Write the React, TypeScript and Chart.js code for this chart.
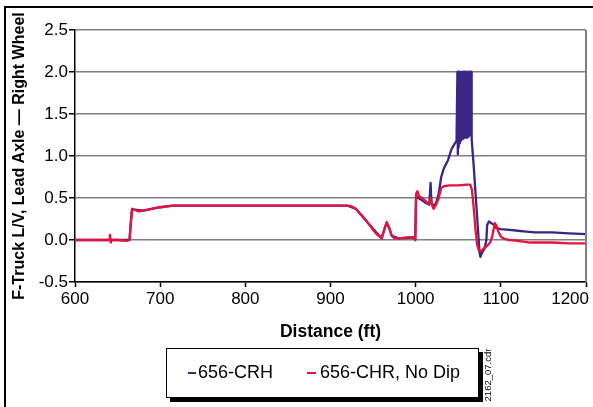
import React, { useEffect, useRef } from 'react';
import { Chart, registerables } from 'chart.js';

Chart.register(...registerables);

const X_TICKS = [600, 700, 800, 900, 1000, 1100, 1200];
const Y_TICKS = [-0.5, 0, 0.5, 1.0, 1.5, 2.0, 2.5];
const BAND_START = 1049;
const BAND_END = 1065.5;
const BAND_TOP = 2.0;

// 656-CRH (blue)
const crhX = [
  600, 640, 660, 664, 665.5, 667, 670, 680, 700, 715, 800, 900, 920, 930, 945, 960, 963, 966, 969, 972, 980, 998, 999.5,
  1000.5, 1003, 1008, 1012, 1016, 1017.5, 1018.5, 1021, 1024, 1027, 1030, 1033, 1038, 1042, 1046, 1048,
  1049, 1049.5, 1050, 1050.5, 1051, 1051.5, 1052, 1052.5, 1053, 1053.5, 1054, 1054.5, 1055, 1055.5, 1056, 1056.5,
  1057, 1057.5, 1058, 1058.5, 1059, 1059.5, 1060, 1060.5, 1061, 1061.5, 1062, 1062.5, 1063, 1063.5, 1064, 1064.5,
  1065, 1065.5,
  1066, 1068, 1070, 1072, 1074, 1075, 1076, 1078, 1081, 1083, 1084, 1086, 1089, 1092, 1095, 1100, 1110, 1120, 1130,
  1140, 1160, 1180, 1200,
];
const crhY = [
  0, 0, 0, 0, 0.2, 0.37, 0.36, 0.35, 0.39, 0.41, 0.41, 0.41, 0.41, 0.37, 0.19, 0.02, 0.12, 0.21, 0.14, 0.05, 0.02, 0.03, 0.0,
  0.52, 0.5, 0.47, 0.44, 0.42, 0.68, 0.45, 0.4, 0.44, 0.55, 0.75, 0.85, 0.95, 1.08, 1.15, 1.18,
  2.0, 1.02, 2.0, 1.1, 2.0, 1.15, 2.0, 1.18, 2.0, 1.2, 2.0, 1.2, 2.0, 1.2, 2.0, 1.21,
  2.0, 1.22, 2.0, 1.22, 2.0, 1.22, 2.0, 1.22, 2.0, 1.23, 2.0, 1.24, 2.0, 1.25, 2.0, 1.25,
  2.0, 1.25,
  1.2, 0.9, 0.6, 0.3, 0.0, -0.15, -0.2, -0.15, -0.1, 0.0, 0.18, 0.22, 0.2, 0.18, 0.14, 0.13, 0.12, 0.11, 0.1,
  0.09, 0.09, 0.08, 0.07,
];

// 656-CHR, No Dip (red)
const chrX = [
  600, 630, 640, 641, 642, 643, 650, 660, 664, 665.5, 667, 670, 675, 680, 690, 700, 715, 750, 800, 850, 900, 920, 925,
  930, 938, 945, 950, 955, 960, 963, 966, 969, 972, 975, 980, 990, 998, 999.5,
  1000.5, 1002, 1004, 1008, 1012, 1016, 1018, 1019, 1021, 1024, 1027, 1030, 1033, 1040, 1050, 1060, 1064, 1066, 1068,
  1070, 1072, 1074, 1077, 1080, 1084, 1088, 1090, 1093, 1095, 1097, 1100, 1105, 1110, 1120, 1135, 1160, 1180, 1200,
];
const chrY = [
  0, 0, 0, 0.06, -0.03, 0, 0, -0.01, 0, 0.2, 0.37, 0.36, 0.34, 0.35, 0.37, 0.39, 0.41, 0.41, 0.41, 0.41, 0.41, 0.41, 0.4,
  0.37, 0.28, 0.19, 0.12, 0.06, 0.02, 0.12, 0.21, 0.14, 0.05, 0.02, 0.02, 0.03, 0.03, 0.0,
  0.55, 0.58, 0.52, 0.5, 0.46, 0.43, 0.5, 0.42, 0.37, 0.42, 0.5, 0.62, 0.64, 0.65, 0.65, 0.66, 0.66, 0.6, 0.4,
  0.15, -0.05, -0.12, -0.13, -0.1, -0.07, -0.02, 0.05, 0.2, 0.17, 0.1, 0.04, 0.01, 0.0, -0.01, -0.03, -0.03, -0.04, -0.04,
];

const BLUE = '#3b2585';
const RED = '#e8123e';
const FONT = '"Liberation Sans", Arial, sans-serif';

// Fills the blue series' oscillation band: from its 2.0 peaks down to its lower envelope (its local minima).
const bandPlugin = {
  id: 'band',
  afterDatasetsDraw(chart: any) {
    const { ctx, scales, chartArea } = chart;
    const xs = scales.x;
    const ys = scales.y;
    const top = ys.getPixelForValue(BAND_TOP);
    const pts: [number, number][] = [];
    crhX.forEach((x, i) => {
      if (x >= BAND_START && x <= BAND_END && crhY[i] < BAND_TOP) {
        pts.push([xs.getPixelForValue(x), ys.getPixelForValue(crhY[i])]);
      }
    });
    if (!pts.length) return;
    const x0 = xs.getPixelForValue(BAND_START);
    const x1 = xs.getPixelForValue(BAND_END);
    ctx.save();
    ctx.beginPath();
    ctx.rect(chartArea.left, chartArea.top, chartArea.right - chartArea.left, chartArea.bottom - chartArea.top);
    ctx.clip();
    ctx.fillStyle = BLUE;
    ctx.beginPath();
    ctx.moveTo(x0, top);
    ctx.lineTo(x0, pts[0][1]);
    pts.forEach(([px, py]) => ctx.lineTo(px, py));
    ctx.lineTo(x1, pts[pts.length - 1][1]);
    ctx.lineTo(x1, top);
    ctx.closePath();
    ctx.fill();
    ctx.restore();
  },
};

const xLabelPlugin = {
  id: 'xLabels',
  afterDraw(chart: any) {
    const { ctx, chartArea, scales } = chart;
    const xs = scales.x;
    ctx.save();
    ctx.strokeStyle = '#808080';
    ctx.lineWidth = 2;
    ctx.beginPath();
    ctx.moveTo(chartArea.right, chartArea.top);
    ctx.lineTo(chartArea.right, chartArea.bottom);
    ctx.stroke();
    ctx.font = '17px ' + FONT;
    ctx.fillStyle = '#000';
    ctx.textAlign = 'center';
    ctx.textBaseline = 'alphabetic';
    X_TICKS.forEach((v) => {
      const label = String(v);
      const w = ctx.measureText(label).width;
      let x = xs.getPixelForValue(v);
      if (x + w / 2 > 589) x = 589 - w / 2;
      ctx.fillText(label, x, chartArea.bottom + 22);
    });
    ctx.restore();
  },
};

export default function App() {
  const ref = useRef<HTMLCanvasElement>(null);
  useEffect(() => {
    if (!ref.current) return;
    const chart = new Chart(ref.current, {
      type: 'line',
      data: {
        datasets: [
          {
            label: '656-CHR, No Dip',
            data: chrX.map((x, i) => ({ x, y: chrY[i] })),
            borderColor: RED,
            backgroundColor: RED,
            borderWidth: 2.3,
            borderJoinStyle: 'round',
            pointRadius: 0,
            tension: 0,
          },
          {
            label: '656-CRH',
            data: crhX.map((x, i) => ({ x, y: crhY[i] })),
            borderColor: BLUE,
            backgroundColor: BLUE,
            borderWidth: 2.3,
            borderJoinStyle: 'round',
            pointRadius: 0,
            tension: 0,
          },
        ],
      },
      options: {
        animation: false,
        responsive: false,
        maintainAspectRatio: false,
        devicePixelRatio: 1,
        layout: { padding: { left: 10, top: 30, right: 7, bottom: 64 } },
        plugins: { legend: { display: false }, tooltip: { enabled: false } },
        scales: {
          x: {
            type: 'linear',
            min: 600,
            max: 1200,
            afterBuildTicks: (s: any) => {
              s.ticks = X_TICKS.map((v) => ({ value: v }));
            },
            afterFit: (s: any) => {
              s.height = 61;
              s.paddingLeft = 0;
              s.paddingRight = 0;
            },
            ticks: { display: false },
            grid: { drawOnChartArea: false, drawTicks: true, tickLength: 5, tickColor: '#000', tickWidth: 1.5 },
            border: { color: '#000', width: 1.5 },
            title: {
              display: true,
              text: 'Distance (ft)',
              color: '#000',
              font: { family: FONT, size: 17.5, weight: 'bold' },
              padding: { top: 0, bottom: 0 },
            },
          },
          y: {
            type: 'linear',
            min: -0.5,
            max: 2.5,
            afterBuildTicks: (s: any) => {
              s.ticks = Y_TICKS.map((v) => ({ value: v }));
            },
            afterFit: (s: any) => {
              s.width = 65;
              s.paddingTop = 0;
              s.paddingBottom = 0;
            },
            ticks: {
              color: '#000',
              padding: 1,
              font: { family: FONT, size: 17 },
              callback: (v: any) => Number(v).toFixed(1),
            },
            grid: { color: '#808080', lineWidth: 1.5, tickLength: 6, tickColor: '#000', tickWidth: 1.5 },
            border: { color: '#000', width: 1.5 },
            title: {
              display: true,
              text: 'F-Truck L/V, Lead Axle \u2014 Right Wheel',
              color: '#000',
              font: { family: FONT, size: 16, weight: 'bold' },
              padding: { top: 0, bottom: 0 },
            },
          },
        },
      },
      plugins: [bandPlugin, xLabelPlugin],
    });
    return () => chart.destroy();
  }, []);

  return (
    <div
      style={{
        position: 'fixed',
        left: 0,
        top: 0,
        width: 593,
        height: 407,
        background: '#fff',
        overflow: 'hidden',
        fontFamily: FONT,
      }}
    >
      <canvas ref={ref} width={593} height={407} style={{ position: 'absolute', left: 0, top: 0, width: 593, height: 407 }} />
      <div style={{ position: 'absolute', left: 4, top: 6, width: 600, height: 2, background: '#000' }} />
      <div style={{ position: 'absolute', left: 4, top: 6, width: 2, height: 410, background: '#000' }} />
      <div
        style={{
          position: 'absolute',
          left: 166,
          top: 348,
          width: 311,
          height: 48,
          border: '1px solid #000',
          background: '#fff',
          boxShadow: '4px 4px 0 #000',
        }}
      >
        <div style={{ position: 'absolute', left: 21, top: 23, width: 8, height: 2, background: BLUE }} />
        <div style={{ position: 'absolute', left: 31, top: 12, fontSize: 18, lineHeight: '22px', color: '#000', whiteSpace: 'nowrap' }}>
          656-CRH
        </div>
        <div style={{ position: 'absolute', left: 140, top: 23, width: 9, height: 2, background: RED }} />
        <div style={{ position: 'absolute', left: 153, top: 12, fontSize: 18, lineHeight: '22px', color: '#000', whiteSpace: 'nowrap' }}>
          656-CHR, No Dip
        </div>
      </div>
      <div
        style={{
          position: 'absolute',
          left: 488,
          top: 375,
          transform: 'translate(-50%, -50%) rotate(-90deg)',
          fontSize: 9.5,
          lineHeight: '10px',
          whiteSpace: 'nowrap',
          color: '#000',
        }}
      >
        2162_07.cdr
      </div>
    </div>
  );
}
